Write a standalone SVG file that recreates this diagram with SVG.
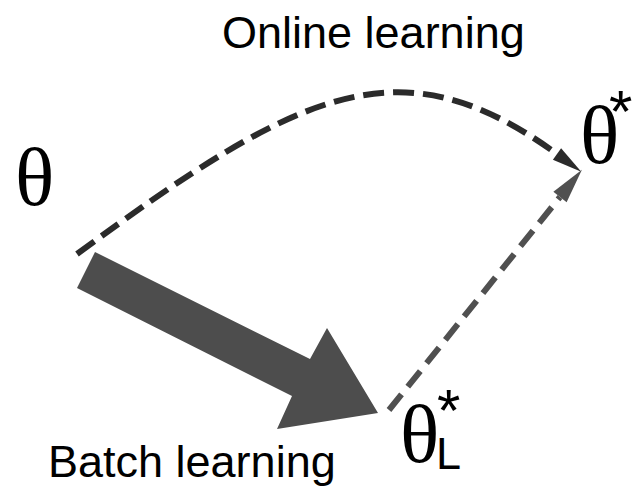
<svg xmlns="http://www.w3.org/2000/svg" width="633" height="495" viewBox="0 0 633 495">
<style>
.sans{font-family:"Liberation Sans",Arial,sans-serif;fill:#000}
.serif{font-family:"Liberation Serif","Times New Roman",serif;fill:#000}
.lbl{font-size:45px}
.th{font-size:82px}
.star{font-size:60px}
.arc{fill:none;stroke:#2b2b2b;stroke-width:6;stroke-dasharray:21 9}
.gline{fill:none;stroke:#505050;stroke-width:6;stroke-dasharray:20 10}
</style>
<defs>
<marker id="hd" markerUnits="userSpaceOnUse" markerWidth="40" markerHeight="40" refX="0" refY="0" viewBox="-2 -20 40 40" orient="auto" overflow="visible">
<path d="M0,-7 L30,0 L0,7 z" fill="#2b2b2b"/>
</marker>
<marker id="hg" markerUnits="userSpaceOnUse" markerWidth="40" markerHeight="40" refX="0" refY="0" viewBox="-2 -20 40 40" orient="auto" overflow="visible">
<path d="M0,-8.5 L35,0 L0,8.5 z" fill="#505050"/>
</marker>
</defs>
<g id="connectors">
<polygon id="batch-arrow" points="95,252 310,359 327,328 378,413 277,429 292,396 77,288" fill="#4d4d4d"/>
<path id="online-arc" class="arc" d="M77,254 C300,90 400,40 557,154" marker-end="url(#hd)"/>
<path id="gray-line" class="gline" d="M389,410 L560,197" marker-end="url(#hg)"/>
</g>
<g id="node-theta">
<text class="serif th" x="15" y="205">θ</text>
</g>
<g id="node-theta-star">
<text class="serif th" x="580" y="163">θ</text>
<text class="sans star" x="609" y="132">*</text>
</g>
<g id="node-theta-L">
<text class="serif th" x="400" y="462">θ</text>
<text class="sans star" x="437" y="431">*</text>
<text class="sans lbl" x="436" y="469">L</text>
</g>
<g id="label-online">
<text class="sans lbl" x="222" y="48">Online learning</text>
</g>
<g id="label-batch">
<text class="sans lbl" x="48" y="477">Batch learning</text>
</g>
</svg>
